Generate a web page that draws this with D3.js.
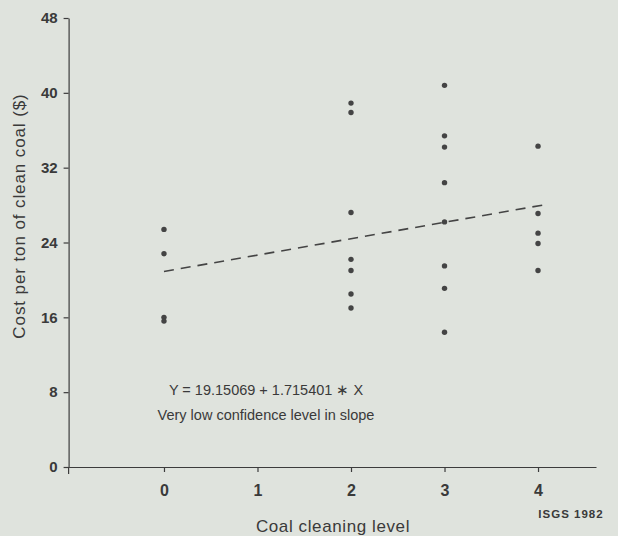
<!DOCTYPE html>
<html>
<head>
<meta charset="utf-8">
<script src="https://cdn.jsdelivr.net/npm/d3@7"></script>
<style>
  html, body { margin: 0; padding: 0; background: #dfe3dd; }
  svg { display: block; }
  text { font-family: "Liberation Sans", Arial, Helvetica, sans-serif; fill: #3a3a3a; }
</style>
</head>
<body>
<svg id="chart" width="618" height="536"></svg>
<script>
// Data
const levels0 = [25.4, 22.8, 16.0, 15.6];
const levels2 = [38.9, 37.9, 27.2, 22.2, 21.0, 18.5, 17.0];
const levels3 = [40.8, 35.4, 34.2, 30.4, 26.2, 21.5, 19.1, 14.4];
const levels4 = [34.3, 27.1, 25.0, 23.9, 21.0];
const levelKeys = [0, 2, 3, 4];
const xTicks = [0, 1, 2, 3, 4];
const yTicks = [0, 8, 16, 24, 32, 40, 48];
const fitLineX = [0, 4.05];
const fitLineY = [20.9, 28.0];
const equationLines = ["Y = 19.15069 + 1.715401 \u2217 X", "Very low confidence level in slope"];

const points = [];
[levels0, levels2, levels3, levels4].forEach((arr, i) => arr.forEach(v => points.push({x: levelKeys[i], y: v})));

const svg = d3.select("#chart");
const x = d3.scaleLinear().domain([-1.02, 4.62]).range([68.6, 596]);
const y = d3.scaleLinear().domain([0, 48]).range([467, 18]);
const ink = "#3c3c3c";

// Y axis
const yAxis = svg.append("g").attr("transform", `translate(${x(-1.02)},0)`)
  .call(d3.axisLeft(y).tickValues(yTicks).tickSize(5).tickSizeOuter(0).tickPadding(6));
yAxis.select(".domain").attr("stroke", ink).attr("stroke-width", 1.2);
yAxis.selectAll(".tick line").attr("stroke", ink).attr("stroke-width", 1.2);
yAxis.selectAll(".tick text").attr("fill", "#333").style("font-size", "15px").style("font-weight", "bold")
  .style("font-family", "'Liberation Sans', Arial, sans-serif");
// small extension of y axis below the origin
svg.append("line").attr("x1", x(-1.02)).attr("x2", x(-1.02)).attr("y1", y(0)).attr("y2", y(0) + 7)
  .attr("stroke", ink).attr("stroke-width", 1.2);

// X axis
const xAxis = svg.append("g").attr("transform", `translate(0,${y(0)})`)
  .call(d3.axisBottom(x).tickValues(xTicks).tickFormat(d3.format("d")).tickSize(5).tickSizeOuter(0).tickPadding(13));
xAxis.select(".domain").attr("stroke", ink).attr("stroke-width", 1.2);
xAxis.selectAll(".tick line").attr("stroke", ink).attr("stroke-width", 1.2);
xAxis.selectAll(".tick text").attr("fill", "#333").style("font-size", "16px").style("font-weight", "bold")
  .style("font-family", "'Liberation Sans', Arial, sans-serif");

// Regression line (dashed)
svg.append("line")
  .attr("x1", x(fitLineX[0])).attr("y1", y(fitLineY[0]))
  .attr("x2", x(fitLineX[1])).attr("y2", y(fitLineY[1]))
  .attr("stroke", "#444").attr("stroke-width", 1.6).attr("stroke-dasharray", "10,7");

// Points
svg.append("g").selectAll("circle").data(points).join("circle")
  .attr("cx", d => x(d.x)).attr("cy", d => y(d.y)).attr("r", 2.7).attr("fill", "#444");

// Equation text
svg.append("g").selectAll("text").data(equationLines).join("text")
  .attr("x", 266).attr("y", (d, i) => 395 + i * 25)
  .attr("text-anchor", "middle").style("font-size", "14.5px").text(d => d);

// Axis titles
svg.append("text").attr("x", 333).attr("y", 532).attr("text-anchor", "middle")
  .style("font-size", "17px").style("letter-spacing", "0.6px").text("Coal cleaning level");
svg.append("text").attr("transform", "translate(25,216) rotate(-90)").attr("text-anchor", "middle")
  .style("font-size", "17px").style("letter-spacing", "0.9px").text("Cost per ton of clean coal  ($)");
svg.append("text").attr("x", 571).attr("y", 518).attr("text-anchor", "middle")
  .style("font-size", "11.5px").style("font-weight", "bold").style("letter-spacing", "1px").text("ISGS  1982");
</script>
</body>
</html>
